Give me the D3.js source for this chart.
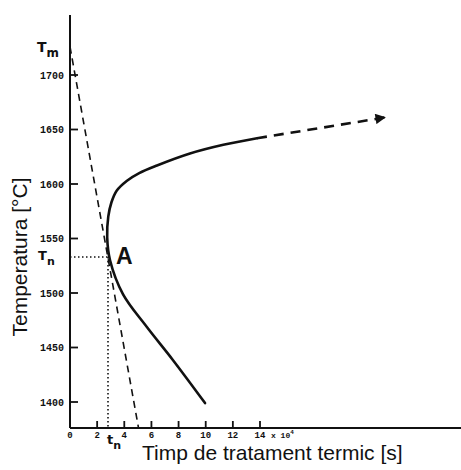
<!DOCTYPE html>
<html>
<head>
<meta charset="utf-8">
<script src="https://cdn.jsdelivr.net/npm/d3@7"></script>
<style>
  html, body { margin: 0; padding: 0; background: #fff; }
  svg { display: block; }
</style>
</head>
<body>
<div id="chart"></div>
<script>
// --- data ---
const xTicks = [0, 2, 4, 6, 8, 10, 12, 14];
const yTicks = [1400, 1450, 1500, 1550, 1600, 1650, 1700];

// C-curve (time in units of 10^4 s, temperature in °C)
const curveTime = [9.95, 7.55, 5.65, 3.9, 2.95, 2.74, 2.82, 3.05, 3.45, 4.2, 5.1, 6.41, 8.84, 11.3, 13.78];
const curveTemp = [1399, 1439, 1469, 1499, 1530, 1551, 1570, 1583, 1594, 1603, 1610, 1617, 1628, 1636, 1642];

// dashed continuation with arrow
const extTime = [13.78, 23.2];
const extTemp = [1642, 1661];

const Tm = 1726;          // melting temperature
const Tn = 1533;          // nucleation temperature (point A)
const tn = 2.8;           // nucleation time
const coolEndTime = 5.05; // dashed cooling line hits the time axis

const W = 461, H = 470;
const ink = '#111';

const svg = d3.select('#chart').append('svg')
    .attr('width', W)
    .attr('height', H);

const x = d3.scaleLinear().domain([0, 14]).range([70, 260]);
const y = d3.scaleLinear().domain([1400, 1700]).range([402, 75]);

const yBottom = 428, yTop = 15;
const tBottom = y.invert(yBottom);

// axes
svg.append('line')
    .attr('x1', x(0)).attr('x2', x(0))
    .attr('y1', yTop).attr('y2', yBottom)
    .attr('stroke', ink).attr('stroke-width', 2);
svg.append('line')
    .attr('x1', x(0)).attr('x2', W)
    .attr('y1', yBottom).attr('y2', yBottom)
    .attr('stroke', ink).attr('stroke-width', 2);

// y ticks
svg.append('g').selectAll('line')
    .data(yTicks)
    .join('line')
    .attr('x1', x(0)).attr('x2', x(0) + 8)
    .attr('y1', d => y(d)).attr('y2', d => y(d))
    .attr('stroke', ink).attr('stroke-width', 1.8);
svg.append('g').selectAll('text')
    .data(yTicks)
    .join('text')
    .attr('x', 64)
    .attr('y', d => y(d))
    .attr('dy', '0.35em')
    .attr('text-anchor', 'end')
    .attr('font-family', 'Liberation Mono, DejaVu Sans Mono, monospace')
    .attr('font-weight', 'bold')
    .attr('font-size', 10)
    .attr('fill', ink)
    .text(d => d);

// x ticks
svg.append('g').selectAll('line')
    .data(xTicks.filter(d => d > 0))
    .join('line')
    .attr('x1', d => x(d)).attr('x2', d => x(d))
    .attr('y1', yBottom).attr('y2', yBottom - 7)
    .attr('stroke', ink).attr('stroke-width', 1.8);
svg.append('g').selectAll('text')
    .data(xTicks)
    .join('text')
    .attr('x', d => x(d))
    .attr('y', 438)
    .attr('text-anchor', 'middle')
    .attr('font-family', 'Liberation Mono, DejaVu Sans Mono, monospace')
    .attr('font-weight', 'bold')
    .attr('font-size', 9)
    .attr('fill', ink)
    .text(d => d);
const mult = svg.append('text')
    .attr('x', x(14) + 11)
    .attr('y', 438)
    .attr('font-family', 'Liberation Mono, DejaVu Sans Mono, monospace')
    .attr('font-weight', 'bold')
    .attr('font-size', 8)
    .attr('fill', ink);
mult.append('tspan').text('x 10');
mult.append('tspan').attr('dy', -4).attr('font-size', 6).text('4');

// dashed cooling line from Tm
svg.append('line')
    .attr('x1', x(0)).attr('y1', y(Tm))
    .attr('x2', x(coolEndTime)).attr('y2', y(tBottom))
    .attr('stroke', ink).attr('stroke-width', 1.6)
    .attr('stroke-dasharray', '7,5');

// dotted guides to A
svg.append('line')
    .attr('x1', x(0)).attr('y1', y(Tn))
    .attr('x2', x(tn)).attr('y2', y(Tn))
    .attr('stroke', ink).attr('stroke-width', 1.6)
    .attr('stroke-dasharray', '1.5,2.5');
svg.append('line')
    .attr('x1', x(tn)).attr('y1', y(Tn))
    .attr('x2', x(tn)).attr('y2', yBottom)
    .attr('stroke', ink).attr('stroke-width', 1.6)
    .attr('stroke-dasharray', '1.5,2.5');

// C-curve
const pts = curveTime.map((t, i) => [x(t), y(curveTemp[i])]);
svg.append('path')
    .attr('d', d3.line().curve(d3.curveCatmullRom.alpha(0.5))(pts))
    .attr('fill', 'none')
    .attr('stroke', ink)
    .attr('stroke-width', 2.6)
    .attr('stroke-linecap', 'round');

// dashed extension with arrow
svg.append('defs').append('marker')
    .attr('id', 'arrow')
    .attr('viewBox', '0 0 10 10')
    .attr('refX', 9).attr('refY', 5)
    .attr('markerWidth', 5).attr('markerHeight', 4)
    .attr('markerUnits', 'strokeWidth')
    .attr('orient', 'auto')
    .append('path')
    .attr('d', 'M0,0 L10,5 L0,10 z')
    .attr('fill', ink);
const ext = extTime.map((t, i) => [x(t), y(extTemp[i])]);
svg.append('path')
    .attr('d', d3.line()(ext))
    .attr('fill', 'none')
    .attr('stroke', ink)
    .attr('stroke-width', 2.6)
    .attr('stroke-dasharray', '10,7')
    .attr('marker-end', 'url(#arrow)');

// labels
const lab = (px, py, main, sub, size) => {
    const t = svg.append('text')
        .attr('x', px).attr('y', py)
        .attr('font-family', 'DejaVu Sans, sans-serif')
        .attr('font-weight', 'bold')
        .attr('font-size', size)
        .attr('fill', ink);
    t.append('tspan').text(main);
    t.append('tspan').attr('dy', size * 0.35).attr('font-size', size * 0.85).text(sub);
};
lab(37, 52, 'T', 'm', 14);
lab(38, 260, 'T', 'n', 13);
lab(107, 444, 't', 'n', 13);

svg.append('text')
    .attr('x', 116).attr('y', 264)
    .attr('font-family', 'Liberation Sans, Arial, sans-serif')
    .attr('font-weight', 'bold')
    .attr('font-size', 23)
    .attr('fill', ink)
    .text('A');

svg.append('text')
    .attr('transform', 'translate(27,257) rotate(-90)')
    .attr('text-anchor', 'middle')
    .attr('font-family', 'Liberation Sans, Arial, sans-serif')
    .attr('font-size', 21)
    .attr('fill', ink)
    .text('Temperatura [°C]');

svg.append('text')
    .attr('x', 142).attr('y', 460)
    .attr('font-family', 'Liberation Sans, Arial, sans-serif')
    .attr('font-size', 21)
    .attr('fill', ink)
    .text('Timp de tratament termic [s]');
</script>
</body>
</html>
